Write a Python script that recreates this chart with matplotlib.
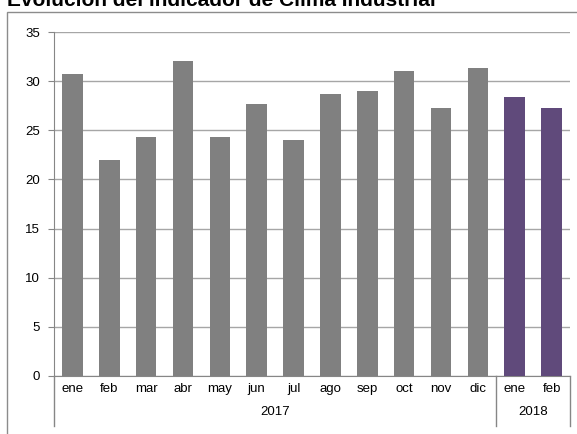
import matplotlib.pyplot as plt
from matplotlib.patches import Rectangle
import matplotlib.transforms as mtransforms

plt.rcParams['font.family'] = ['Liberation Sans', 'DejaVu Sans']

months = ['ene', 'feb', 'mar', 'abr', 'may', 'jun', 'jul', 'ago', 'sep', 'oct', 'nov', 'dic', 'ene', 'feb']
years = ['2017', '2018']
year_counts = [12, 2]
values = [30.7, 22.0, 24.3, 32.0, 24.3, 27.7, 24.0, 28.7, 29.0, 31.0, 27.3, 31.3, 28.4, 27.3]
colors = ['#808080'] * 12 + ['#604A7B'] * 2

W, H = 577, 434
fig = plt.figure(figsize=(W / 100, H / 100), dpi=100)

# chart frame (Excel style, only top/left visible in the crop)
fig.patches.append(Rectangle((7 / W, -0.1), 1.0, (H - 12) / H + 0.1,
                             transform=fig.transFigure, fill=False,
                             edgecolor='#8c8c8c', linewidth=1.0))

fig.text(7 / W, 1 - 6 / H, 'Evolución del indicador de Clima Industrial',
         fontsize=15, fontweight='bold', ha='left', va='baseline')

ax = fig.add_axes([54 / W, (H - 376) / H, (570 - 54) / W, (376 - 32) / H])
x = list(range(len(months)))
ax.bar(x, values, width=0.56, color=colors, zorder=3)

ax.set_xlim(-0.5, len(months) - 0.5)
ax.set_ylim(0, 35)
ax.set_yticks(range(0, 36, 5))
ax.yaxis.grid(True, color='#a6a6a6', linewidth=1.0, zorder=0)
ax.tick_params(axis='y', length=4, color='#868686', labelsize=9.5, pad=6)
ax.set_xticks(x)
ax.set_xticklabels(months, fontsize=9.5)
ax.tick_params(axis='x', length=0, pad=5)

for s in ['top', 'right']:
    ax.spines[s].set_visible(False)
ax.spines['left'].set_color('#868686')
ax.spines['bottom'].set_color('#868686')

# second level of category axis
trans = mtransforms.blended_transform_factory(ax.transData, ax.transAxes)
edges = [-0.5]
for c in year_counts:
    edges.append(edges[-1] + c)
for e in edges:
    ax.plot([e, e], [0, -50 / 344], transform=trans, color='#868686',
            linewidth=1.0, clip_on=False)
for i, yr in enumerate(years):
    ax.text((edges[i] + edges[i + 1]) / 2, -36 / 344, yr, transform=trans,
            ha='center', va='center', fontsize=9.5)

fig.savefig('out.png', dpi=100)
